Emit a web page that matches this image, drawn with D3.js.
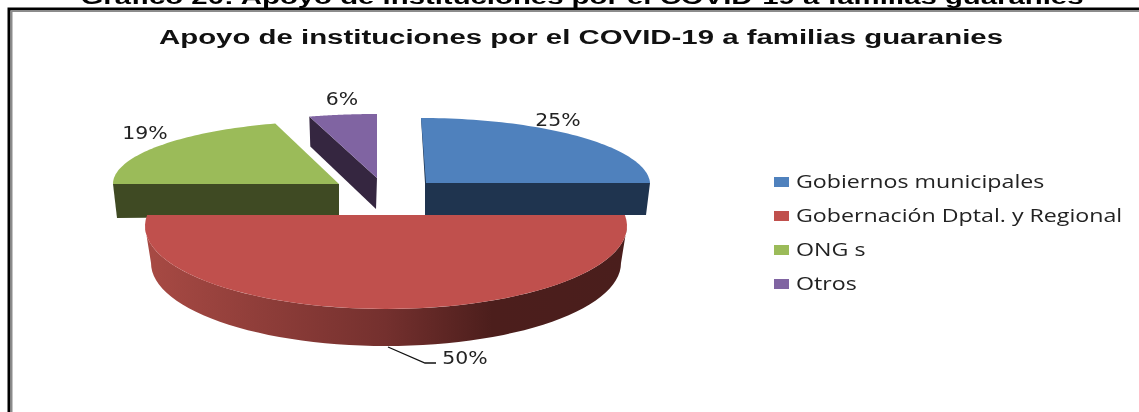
<!DOCTYPE html>
<html><head><meta charset="utf-8">
<script src="https://cdn.jsdelivr.net/npm/d3@7/dist/d3.min.js"></script>
<style>html,body{margin:0;padding:0;background:#fff;overflow:hidden}svg{display:block;filter:blur(0.45px)}</style>
</head><body><svg id="c" width="1139" height="412"></svg>
<script>
const categories = ["Gobiernos municipales","Gobernación Dptal. y Regional","ONG s","Otros"];
const values = [25,50,19,6];
const topColors = ["#4f81bd","#c0504d","#9bbb59","#8064a2"];
const sideColors = ["#1f344f","#4a1e1c","#3f4a23","#352640"];
const heading = "Gráfico 20: Apoyo de instituciones por el COVID-19 a familias guaraníes";
const title = "Apoyo de instituciones por el COVID-19 a familias guaranies";

// per-slice geometry of the exploded 3D projection
const geom = [
 {cx:426,cy:183,rx:224,ry:65,depth:32,shrink:4,skew:-5,lx:558,ly:120},
 {cx:386,cy:226,rx:241,ry:83,depth:32,shrink:6,skew:0,lx:465,ly:358},
 {cx:339,cy:184,rx:226,ry:63,depth:32,shrink:4,skew:0,lx:145,ly:133},
 {cx:377,cy:178,rx:240,ry:64,depth:31,shrink:0,skew:0,lx:342,ly:99}
];
const hStretch = 1.325;
const svg = d3.select("#c");
const pie = d3.pie().sort(null).startAngle(0).endAngle(2*Math.PI);
const arcs = pie(values);
const warp = t => t - 0.133*Math.sin(2*t);
const rad = d3.scaleLinear().domain([0,360]).range([0,2*Math.PI]);
const pt = (g,t,dy=0,dr=0)=>[g.cx+(g.rx-dr)*Math.sin(t)+g.skew*Math.cos(t), g.cy-g.ry*Math.cos(t)+dy];
const arcPts = (g,a,b,dy=0,dr=0)=>d3.range(0,61).map(i=>pt(g,a+(b-a)*i/60,dy,dr));
const line = d3.line();
const stretched = (sel,k)=>{ const w=sel.node().getComputedTextLength();
  sel.attr("textLength",w*k).attr("lengthAdjust","spacingAndGlyphs"); return sel; };

// page frame
svg.append("path").attr("d","M9,412V9H1139").attr("fill","none").attr("stroke","#000").attr("stroke-width",3);
svg.append("path").attr("d","M11.5,412V11H1139").attr("fill","none").attr("stroke","#8c8c8c").attr("stroke-width",2);
svg.append("text").attr("x",582).attr("y",4).attr("text-anchor","middle")
  .attr("font-family","Liberation Sans").attr("font-weight","bold").attr("font-size",21)
  .attr("textLength",1003).attr("lengthAdjust","spacingAndGlyphs").attr("fill","#000").text(heading);
svg.append("text").attr("x",581).attr("y",44).attr("text-anchor","middle")
  .attr("font-family","Liberation Sans").attr("font-weight","bold").attr("font-size",20)
  .attr("textLength",844).attr("lengthAdjust","spacingAndGlyphs").attr("fill","#111").text(title);

// gradient on the big slice's wall
const defs = svg.append("defs");
const grad = defs.append("linearGradient").attr("id","wall").attr("gradientUnits","userSpaceOnUse")
  .attr("x1",geom[1].cx-geom[1].rx).attr("x2",geom[1].cx+geom[1].rx).attr("y1",0).attr("y2",0);
[[0,"#a84a44"],[0.5,"#74302e"],[0.72,"#4c1e1c"],[1,"#4a1e1c"]].forEach(([o,c])=>grad.append("stop").attr("offset",o).attr("stop-color",c));

function flatSlice(i){
  const g=geom[i], a=warp(arcs[i].startAngle), b=warp(arcs[i].endAngle);
  const top=arcPts(g,a,b), c=[g.cx,g.cy];
  return {g,top,c,a,b};
}
// green
{ const {g,top,c}=flatSlice(2);
  const p0=top[0];
  svg.append("path").attr("fill",sideColors[2]).attr("d",line([p0,c,[c[0],c[1]+g.depth],[p0[0]+g.shrink,p0[1]+g.depth+2]])+"Z");
  svg.append("path").attr("fill",topColors[2]).attr("d",line([c,...top])+"Z");
}
// purple
{ const {g,top,c}=flatSlice(3);
  const p0=top[0];
  svg.append("path").attr("fill",sideColors[3]).attr("d",line([p0,c,[c[0]-1,c[1]+g.depth],[p0[0]+1,p0[1]+30]])+"Z");
  svg.append("path").attr("fill",topColors[3]).attr("d",line([c,...top])+"Z");
}
// blue
{ const {g,top,c}=flatSlice(0);
  const e=top[top.length-1];
  svg.append("path").attr("fill",sideColors[0]).attr("d",line([top[0],[c[0]-1,c[1]],[c[0]-1,c[1]+g.depth],[e[0]-g.shrink,e[1]+g.depth],e])+"Z");
  svg.append("path").attr("fill",topColors[0]).attr("d",line([c,...top])+"Z");
}
// red: half ellipse cut by a straight edge
{ const g=geom[1], lip=rad(7.6);
  const a=arcs[1].startAngle-lip, b=arcs[1].endAngle+lip;
  const top=arcPts(g,a,b);
  const rim=arcPts(g,arcs[1].startAngle,arcs[1].endAngle);
  const bottom=arcPts(g,arcs[1].startAngle,arcs[1].endAngle,g.depth+5,g.shrink).reverse();
  svg.append("path").attr("fill","url(#wall)").attr("d",line([...rim,...bottom])+"Z");
  svg.append("path").attr("fill",topColors[1]).attr("d",line(top)+"Z");
  // leader line
  const foot=pt(g,Math.PI,g.depth+5,g.shrink);
  svg.append("path").attr("fill","none").attr("stroke","#111").attr("stroke-width",1.3)
    .attr("d",line([[foot[0]+2,foot[1]+1],[foot[0]+39,foot[1]+17],[foot[0]+50,foot[1]+17]]));
}
// percent labels
const labelFont="'DejaVu Sans'";
values.forEach((v,i)=>{
  stretched(svg.append("text").attr("x",geom[i].lx).attr("y",geom[i].ly+6).attr("text-anchor","middle")
   .attr("font-family",labelFont).attr("font-size",17).attr("fill","#222").text(v+"%"),1.2);
});
// legend
const legendY=d3.scalePoint().domain(categories).range([182,284]);
categories.forEach((c,i)=>{
  const y=legendY(c);
  svg.append("rect").attr("x",774).attr("y",y-5).attr("width",15).attr("height",10).attr("fill",topColors[i]);
  stretched(svg.append("text").attr("x",796).attr("y",y+6).attr("font-family","'Open Sans'").attr("font-size",17.5)
    .attr("fill","#222").text(c),hStretch);
});
</script></body></html>
